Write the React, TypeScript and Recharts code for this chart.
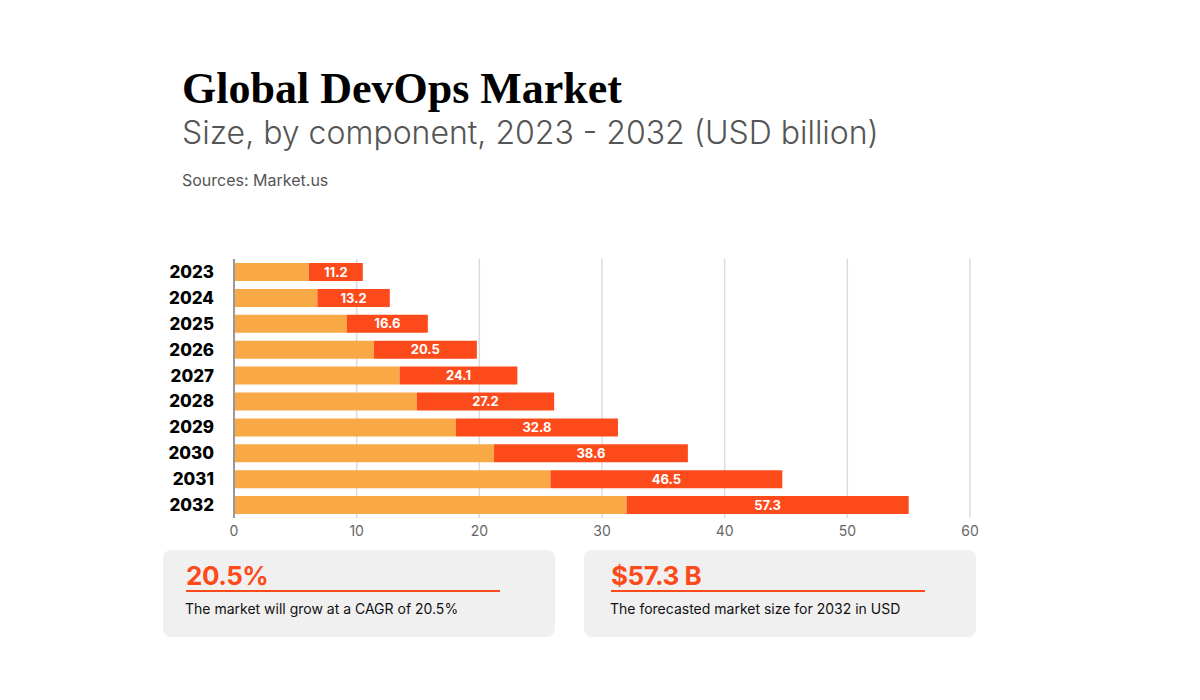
import { BarChart, Bar, XAxis, YAxis, CartesianGrid, LabelList } from "recharts";

const years = ["2023", "2024", "2025", "2026", "2027", "2028", "2029", "2030", "2031", "2032"];
// two components
const compA = [6.1, 6.8, 9.2, 11.4, 13.5, 14.9, 18.1, 21.2, 25.8, 32.0];
const compB = [4.4, 5.9, 6.6, 8.4, 9.6, 11.2, 13.2, 15.8, 18.9, 23.0];
// printed totals on the bars
const totals = [11.2, 13.2, 16.6, 20.5, 24.1, 27.2, 32.8, 38.6, 46.5, 57.3];
const xTicks = [0, 10, 20, 30, 40, 50, 60];

const LIGHT = "#F9A846";
const RED = "#FC4A1A";
const FONT = "Inter, 'Open Sans', sans-serif";

const data = years.map((y, i) => ({ year: y, a: compA[i], b: compB[i], total: totals[i] }));

function Card({ left, pad, big, text }: { left: number; pad: number; big: string; text: string }) {
  return (
    <div
      style={{
        position: "absolute", left, top: 550, width: 392, height: 87,
        background: "#f0f0f0", borderRadius: 8, fontFamily: FONT,
      }}
    >
      <div style={{ position: "absolute", left: pad, top: 10, fontSize: 26, fontWeight: 700, color: RED, letterSpacing: -0.5 }}>
        {big}
      </div>
      <div style={{ position: "absolute", left: pad, top: 40, width: 314, height: 2, background: RED }} />
      <div style={{ position: "absolute", left: pad - 1, top: 50, fontSize: 14, color: "#111" }}>{text}</div>
    </div>
  );
}

export default function App() {
  return (
    <div style={{ position: "fixed", left: 0, top: 0, width: 1200, height: 700, background: "#fff" }}>
      <div style={{ position: "absolute", left: 182, top: 63, fontFamily: "'Liberation Serif', serif", fontWeight: 700, fontSize: 44, color: "#000" }}>
        Global DevOps Market
      </div>
      <div style={{ position: "absolute", left: 182, top: 113, fontFamily: FONT, fontWeight: 300, fontSize: 32, color: "#555" }}>
        Size, by component, 2023 - 2032 (USD billion)
      </div>
      <div style={{ position: "absolute", left: 182, top: 170, fontFamily: FONT, fontSize: 16, color: "#555" }}>
        Sources: Market.us
      </div>

      <div style={{ position: "absolute", left: 150, top: 250 }}>
        <BarChart
          width={850}
          height={300}
          data={data}
          layout="vertical"
          barSize={18}
          margin={{ top: 9, right: 30, left: 0, bottom: 2 }}
        >
          <CartesianGrid horizontal={false} stroke="#dcdcdc" strokeWidth={1.5} />
          <XAxis
            type="number"
            domain={[0, 60]}
            ticks={xTicks}
            axisLine={false}
            tickLine={false}
            height={30}
            tick={{ fontSize: 14, fill: "#666", fontFamily: FONT }}
          />
          <YAxis
            type="category"
            dataKey="year"
            width={84}
            tickLine={false}
            tickMargin={14}
            axisLine={{ stroke: "#999", strokeWidth: 2 }}
            tick={{ fontSize: 17, fill: "#000", fontWeight: 800, fontFamily: FONT }}
          />
          <Bar dataKey="a" stackId="s" fill={LIGHT} isAnimationActive={false} />
          <Bar dataKey="b" stackId="s" fill={RED} isAnimationActive={false}>
            <LabelList dataKey="total" position="center" fill="#fff" fontSize={13} fontWeight={700} fontFamily={FONT} />
          </Bar>
        </BarChart>
      </div>

      <Card left={163} pad={23} big="20.5%" text="The market will grow at a CAGR of 20.5%" />
      <Card left={584} pad={27} big="$57.3 B" text="The forecasted market size for 2032 in USD" />
    </div>
  );
}
